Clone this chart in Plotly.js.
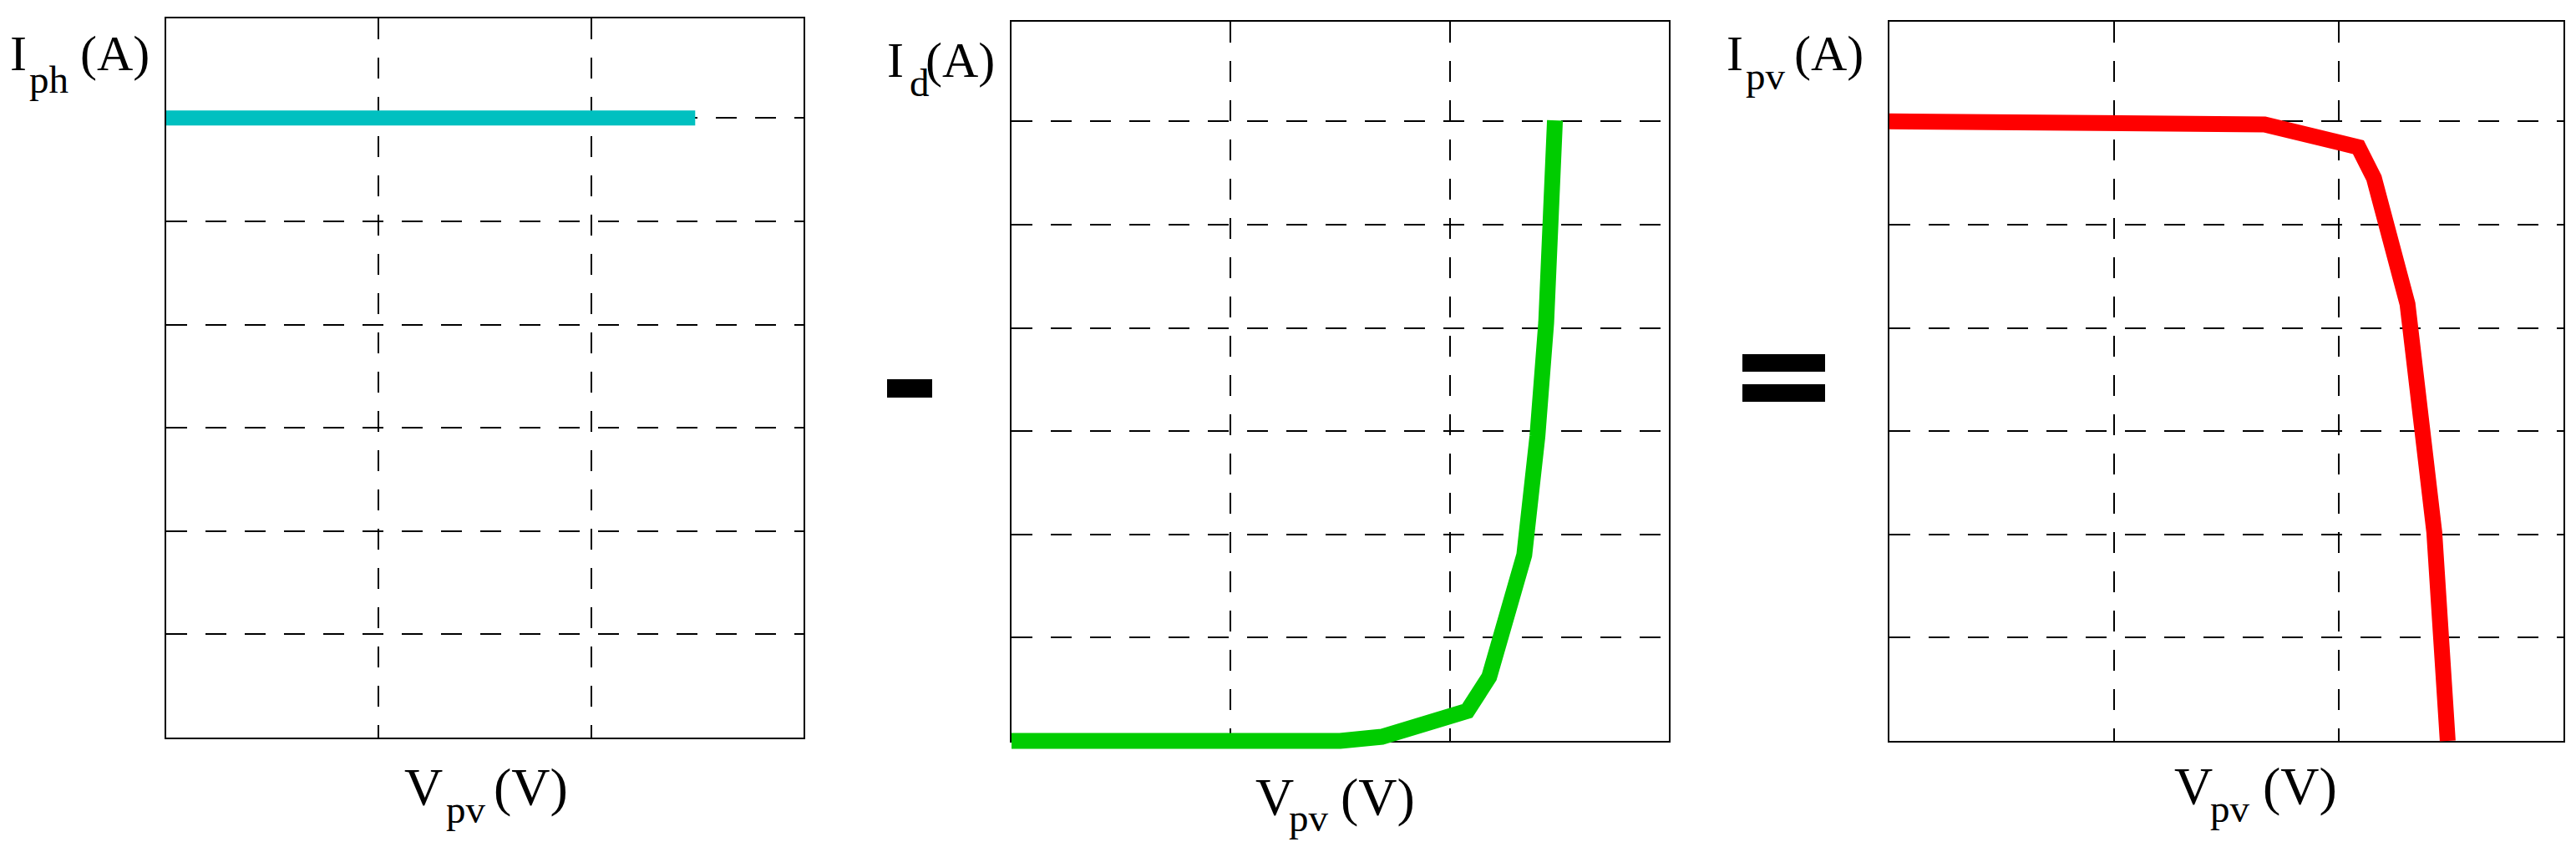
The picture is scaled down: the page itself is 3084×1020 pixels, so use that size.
<!DOCTYPE html>
<html><head><meta charset="utf-8">
<script src="https://cdn.plot.ly/plotly-3.0.1.min.js"></script>
<style>html,body{margin:0;padding:0;background:#fff;}#chart{width:3084px;height:1020px;}</style>
</head><body><div id="chart"></div>
<script>
// ---- data ----
const vPh = [0, 2.49];
const iPh = [6, 6];
const vD = [0, 1.50, 1.69, 2.08, 2.18, 2.34, 2.40, 2.44, 2.48];
const iD = [0, 0, 0.04, 0.29, 0.62, 1.80, 2.95, 4.05, 6.01];
const vPv = [0, 1.52, 1.68, 2.10, 2.17, 2.32, 2.39, 2.44, 2.50];
const iPv = [6, 6, 5.97, 5.75, 5.45, 4.23, 3.06, 2.02, 0];
const xGrid = [1, 2];
const yGrid = [1, 2, 3, 4, 5, 6];
const xRange = [0, 3];
const yRange = [0, 6.965];
const yLabels = [["I", "ph", "(A)"], ["I", "d", "(A)"], ["I", "pv", "(A)"]];
const xLabels = [["V", "pv", "(V)"], ["V", "pv", "(V)"], ["V", "pv", "(V)"]];
const opSigns = ["-", "="];

// ---- layout geometry (pixels) ----
const W = 3084, H = 1020;
const panels = [
  {l: 199, r: 962, t: 22, b: 883, gw: 2},
  {l: 1211, r: 1998, t: 26, b: 887, gw: 2},
  {l: 2262, r: 3069, t: 26, b: 887, gw: 2}
];
const PAD = 20;
const px = x => x / W;
const py = y => 1 - y / H;

const layout = {
  width: W, height: H, autosize: false,
  margin: {l: 0, r: 0, t: 0, b: 0, pad: 0},
  paper_bgcolor: "#ffffff", plot_bgcolor: "rgba(0,0,0,0)",
  showlegend: false,
  annotations: [], shapes: []
};

const traces = [];

panels.forEach((p, i) => {
  const n = i + 1, m = i + 4;
  const xs = n === 1 ? "" : String(n);
  layout["xaxis" + xs] = {
    domain: [px(p.l), px(p.r)], range: xRange, anchor: "y" + xs,
    showline: true, mirror: true, linecolor: "#000", linewidth: 2,
    showgrid: true, gridcolor: "#000", gridwidth: p.gw, griddash: "25px,22px",
    tickmode: "array", tickvals: xGrid, showticklabels: false, ticks: "",
    zeroline: false, fixedrange: true
  };
  layout["yaxis" + xs] = {
    domain: [py(p.b), py(p.t)], range: yRange, anchor: "x" + xs,
    showline: true, mirror: true, linecolor: "#000", linewidth: 2,
    showgrid: true, gridcolor: "#000", gridwidth: p.gw, griddash: "25px,22px",
    tickmode: "array", tickvals: yGrid, showticklabels: false, ticks: "",
    zeroline: false, fixedrange: true
  };
  // placeholder trace so the framed subplot is drawn
  traces.push({x: [null], y: [null], xaxis: "x" + xs, yaxis: "y" + xs, mode: "lines", hoverinfo: "skip"});
  // data axes: same scale, extended domain so thick lines are not clipped at the frame
  const xSpan = xRange[1] - xRange[0], ySpan = yRange[1] - yRange[0];
  const ex = PAD * xSpan / (p.r - p.l), ey = PAD * ySpan / (p.b - p.t);
  layout["xaxis" + m] = {
    domain: [px(p.l - PAD), px(p.r + PAD)], range: [xRange[0] - ex, xRange[1] + ex],
    anchor: "y" + m, visible: false, fixedrange: true
  };
  layout["yaxis" + m] = {
    domain: [py(p.b + PAD), py(p.t - PAD)], range: [yRange[0] - ey, yRange[1] + ey],
    anchor: "x" + m, visible: false, fixedrange: true
  };
});

traces.push(
  {x: vPh, y: iPh, xaxis: "x4", yaxis: "y4", mode: "lines", line: {color: "rgb(0,192,192)", width: 18}, hoverinfo: "skip"},
  {x: vD, y: iD, xaxis: "x5", yaxis: "y5", mode: "lines", line: {color: "rgb(0,204,0)", width: 19}, hoverinfo: "skip"},
  {x: vPv, y: iPv, xaxis: "x6", yaxis: "y6", mode: "lines", line: {color: "rgb(255,0,0)", width: 19}, hoverinfo: "skip"}
);

// ---- text labels (left x, baseline y, font size) ----
const DESC = 0.216; // Liberation Serif descent
const yLabPos = [
  [[12, 84, 60], [35, 111, 47], [96, 84, 60]],
  [[1062, 92, 60], [1089, 115, 47], [1108, 92, 60]],
  [[2067, 84, 60], [2090, 107, 47], [2148, 84, 60]]
];
const xLabPos = [
  [[484, 964, 64], [534, 985, 47], [591, 964, 64]],
  [[1503, 976, 64], [1543, 995, 47], [1605, 976, 64]],
  [[2603, 963, 64], [2646, 984, 47], [2709, 963, 64]]
];
function addLabel(text, pos) {
  const [x, base, size] = pos;
  layout.annotations.push({
    text: text, xref: "paper", yref: "paper",
    x: px(x), y: py(base + DESC * size), xanchor: "left", yanchor: "bottom",
    showarrow: false, borderpad: 0, borderwidth: 0,
    font: {family: "Liberation Serif, Times New Roman, serif", size: size, color: "#000"}
  });
}
yLabels.forEach((parts, i) => parts.forEach((t, j) => addLabel(t, yLabPos[i][j])));
xLabels.forEach((parts, i) => parts.forEach((t, j) => addLabel(t, xLabPos[i][j])));

// ---- operator signs between panels, drawn as bold bars ----
const opBars = {
  "-": [[1062, 454, 1116, 476]],
  "=": [[2086, 424, 2185, 445], [2086, 460, 2185, 481]]
};
opSigns.forEach(s => opBars[s].forEach(b => layout.shapes.push({
  type: "rect", xref: "paper", yref: "paper",
  x0: px(b[0]), x1: px(b[2]), y0: py(b[3]), y1: py(b[1]),
  fillcolor: "#000", line: {width: 0}
})));

Plotly.newPlot("chart", traces, layout, {staticPlot: true, displayModeBar: false});
</script>
</body></html>
